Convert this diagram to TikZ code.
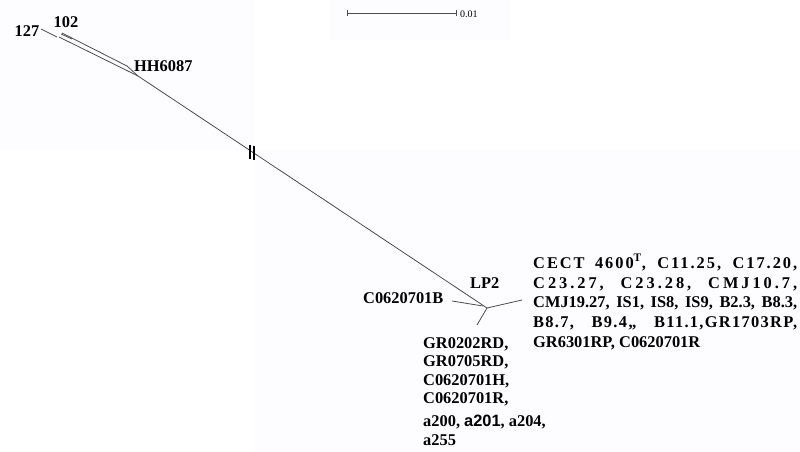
\documentclass[tikz,border=0pt]{standalone}
\usepackage{fontspec}
\setmainfont{Liberation Serif}
\newfontfamily\arialfont{Liberation Sans}
\begin{document}
\begin{tikzpicture}[x=1pt,y=-1pt,
  branch/.style={draw=black!70,line width=0.8pt},
  brk/.style={draw=black,line width=1.1pt},
  lab/.style={inner sep=0pt,font=\fontsize{16.4}{19}\selectfont\bfseries,text=black},
  blk/.style={inner sep=0pt,anchor=base west,font=\fontsize{16.4}{19}\selectfont\bfseries,text=black},
  faint/.style={fill={rgb,255:red,253;green,252;blue,254},draw=none}]
\useasboundingbox (0,0) rectangle (800,452);
\fill[white] (0,0) rectangle (800,452);
\path[faint] (0,0) rectangle (255,150);
\path[faint] (255,150) rectangle (800,452);
\path[faint] (330,0) rectangle (510,40);

% scale bar
\coordinate (sb1) at (347,13);
\coordinate (sb2) at (456,13);
\draw[branch,line width=0.7pt] (sb1) -- (sb2);
\draw[branch,line width=0.7pt] ([yshift=-3pt]sb1) -- ([yshift=3pt]sb1);
\draw[branch,line width=0.7pt] ([yshift=-3pt]sb2) -- ([yshift=3pt]sb2);
\node[inner sep=0pt,anchor=west,font=\fontsize{10}{12}\selectfont] (sblab) at (460,14) {0.01};

% tree coordinates
\coordinate (t127) at (41,29);
\coordinate (j127) at (57,37);
\coordinate (j1) at (59,37);
\coordinate (t102a) at (61,34);
\coordinate (t102b) at (72,39);
\coordinate (u1) at (62,33);
\coordinate (u2) at (127,66);
\coordinate (hh) at (138,76);
\coordinate (lp) at (487,308);
\coordinate (tB) at (452,301);
\coordinate (jB) at (483,306);
\coordinate (tR) at (522,300);
\coordinate (tD) at (477,325);

\draw[branch] (t127) -- (j127);
\draw[branch] (j1) -- (hh);
\draw[branch] (t102a) -- (t102b);
\draw[branch] (u1) -- (u2) -- (hh);
\draw[branch] (hh) -- (lp);
\draw[branch] (tB) -- (jB);
\draw[branch] (lp) -- (tR);
\draw[branch] (lp) -- (tD);

% break marks
\coordinate (b1a) at (250,145); \coordinate (b1b) at (250,159);
\coordinate (b2a) at (254,146); \coordinate (b2b) at (254,160);
\draw[brk] (b1a) -- (b1b);
\draw[brk] (b2a) -- (b2b);

% labels
\node[lab] (l127) at (27,31) {127};
\node[lab] (l102) at (66,22) {102};
\node[lab,anchor=west] (lhh) at (134,66) {HH6087};
\node[lab,anchor=west] (llp) at (470,283) {LP2};
\node[lab,anchor=west] (lB) at (363,298) {C0620701B};

% right block
\node[blk] (r1) at (533,268) {\makebox[264pt][s]{\addfontfeature{LetterSpace=12}CECT 4600\textsuperscript{T}, C11.25, C17.20,}};
\node[blk] (r2) at (533,288) {\makebox[264pt][s]{\addfontfeature{LetterSpace=18}C23.27, C23.28, CMJ10.7,}};
\node[blk] (r3) at (533,307) {\makebox[264pt][s]{CMJ19.27, IS1, IS8, IS9, B2.3, B8.3,}};
\node[blk] (r4) at (533,327) {\makebox[264pt][s]{\addfontfeature{LetterSpace=8}B8.7, B9.4,, B11.1,GR1703RP,}};
\node[blk] (r5) at (533,347) {GR6301RP, C0620701R};

% bottom block
\node[blk] (d1) at (423,348) {GR0202RD,};
\node[blk] (d2) at (423,366.5) {GR0705RD,};
\node[blk] (d3) at (423,385) {C0620701H,};
\node[blk] (d4) at (423,403.5) {C0620701R,};
\node[blk] (d5) at (423,426) {a200, {\arialfont a201}, a204,};
\node[blk] (d6) at (423,445) {a255};
\end{tikzpicture}
\end{document}
